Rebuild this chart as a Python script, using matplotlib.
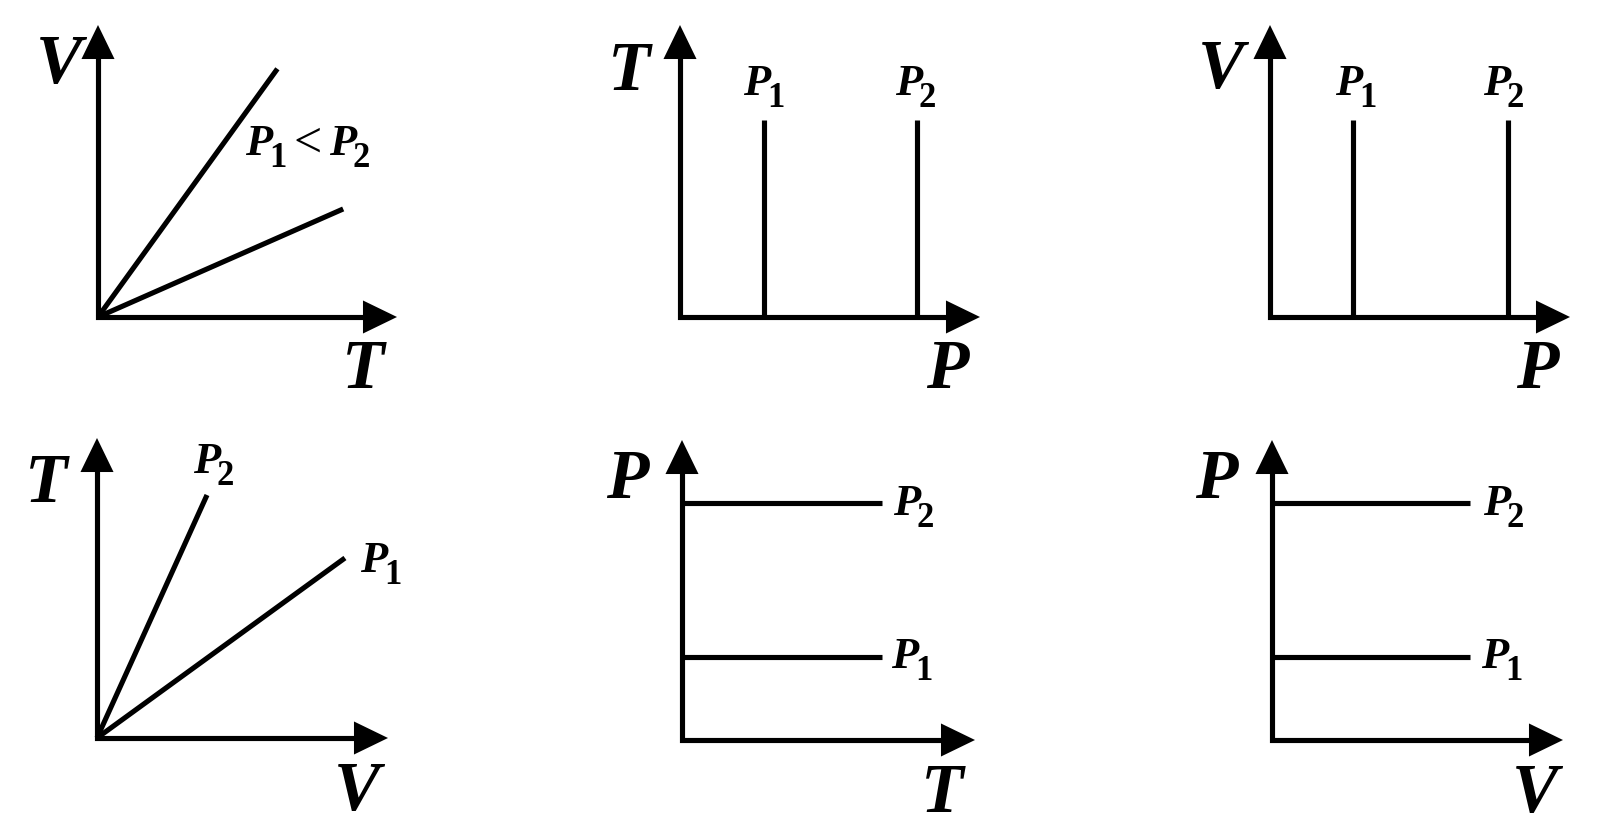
import matplotlib
matplotlib.use("Agg")
import matplotlib.pyplot as plt

W, H = 1600, 839

# panel 1: V-T, two isobars
vt_T_end = [6.0, 8.2]
vt_V_end = [8.5, 3.7]
# panel 2: T-P, vertical lines at P1, P2
tp_P = [2.8, 7.9]
tp_T_top = 6.75
# panel 3: V-P
vp_P = [2.77, 7.93]
vp_V_top = 6.75
# panel 4: T-V
tv_V_end = [3.78, 8.52]
tv_T_end = [8.1, 6.0]
# panel 5: P-T
pt_P = [7.9, 2.77]
pt_T_end = 6.83
# panel 6: P-V
pv_P = [7.9, 2.77]
pv_V_end = 6.8

# axes boxes in pixels: origin x, origin y, width, height
boxes = [
    (98, 317, 299, 292),
    (680, 317, 300, 292),
    (1270, 317, 300, 292),
    (97, 738, 291, 300),
    (682, 740, 293, 300),
    (1272, 740, 291, 300),
]

fig = plt.figure(figsize=(16, 8.39), dpi=100)
fig.patch.set_facecolor("white")

LW = 3.7
serif = ["Liberation Serif", "DejaVu Serif"]
font = dict(family=serif, weight="bold", style="italic", color="black")
subfont = dict(family=serif, weight="bold", color="black")

axes = []
for ox, oy, w, h in boxes:
    ax = fig.add_axes([ox / W, 1 - oy / H, w / W, h / H])
    ax.set_xlim(0, 10)
    ax.set_ylim(0, 10)
    ax.axis("off")
    ax.plot([0, 0, 9.6], [9.6, 0, 0], color="black", lw=LW,
            solid_joinstyle="miter", solid_capstyle="projecting", clip_on=False)
    head = dict(arrowstyle="-|>,head_length=2.45,head_width=1.19", mutation_scale=10,
                lw=0, fc="black", ec="black", shrinkA=0, shrinkB=0)
    ax.annotate("", xy=(10, 0), xytext=(8.5, 0), arrowprops=head, annotation_clip=False)
    ax.annotate("", xy=(0, 10), xytext=(0, 8.5), arrowprops=head, annotation_clip=False)
    axes.append(ax)

line = dict(color="black", lw=LW, solid_capstyle="butt", clip_on=False)

for x, y in zip(vt_T_end, vt_V_end):
    axes[0].plot([0, x], [0, y], **line)
for p in tp_P:
    axes[1].plot([p, p], [0, tp_T_top], **line)
for p in vp_P:
    axes[2].plot([p, p], [0, vp_V_top], **line)
for x, y in zip(tv_V_end, tv_T_end):
    axes[3].plot([0, x], [0, y], **line)
for p in pt_P:
    axes[4].plot([0, pt_T_end], [p, p], **line)
for p in pv_P:
    axes[5].plot([0, pv_V_end], [p, p], **line)


def ftext(x, y, s, size, **kw):
    fig.text(x / W, 1 - y / H, s, fontsize=size, ha="left", va="baseline", **kw)


def plabel(x, y, n, size=32):
    ftext(x, y, "P", size, **font)
    ftext(x + 24, y + 12, n, size * 0.78, **subfont)


# axis names
axis_names = [
    ("V", 36, 83), ("T", 342, 388),
    ("T", 608, 90), ("P", 926, 388),
    ("V", 1198, 88), ("P", 1516, 388),
    ("T", 25, 502), ("V", 334, 810),
    ("P", 606, 498), ("T", 921, 812),
    ("P", 1195, 498), ("V", 1512, 812),
]
for s, x, y in axis_names:
    ftext(x, y, s, 50, **font)

# P labels
plabel(245, 155, "1")
ftext(294, 157, "<", 36, family=serif, color="black")
plabel(329, 155, "2")
plabel(743, 95, "1")
plabel(895, 95, "2")
plabel(1335, 95, "1")
plabel(1483, 95, "2")
plabel(193, 473, "2")
plabel(360, 572, "1")
plabel(893, 515, "2")
plabel(891, 668, "1")
plabel(1483, 515, "2")
plabel(1481, 668, "1")

fig.savefig("out.png", dpi=100, facecolor="white")
